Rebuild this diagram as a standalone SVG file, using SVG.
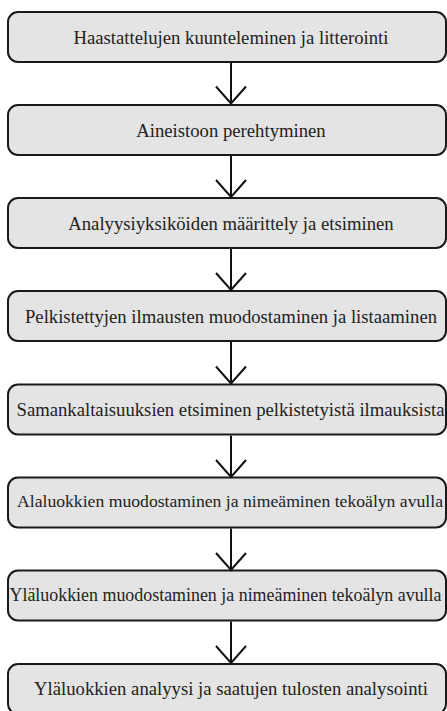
<svg xmlns="http://www.w3.org/2000/svg" width="447" height="711" viewBox="0 0 447 711">
<style>
.box{fill:#e4e4e4;stroke:#1a1a1a;stroke-width:2}
.lbl{font-family:'Liberation Serif','Times New Roman',serif;font-size:18.7px;fill:#222;text-anchor:middle}
.sm{font-size:18px}
.xs{font-size:17.6px}
.con{stroke:#111;stroke-width:2;fill:none}
</style>
<rect width="447" height="711" fill="#fff"/>
<g id="n1"><rect class="box" x="8" y="12" width="438" height="50" rx="10"/><text class="lbl" x="231" y="44">Haastattelujen kuunteleminen ja litterointi</text></g>
<g id="n2"><rect class="box" x="8" y="105" width="438" height="50" rx="10"/><text class="lbl" x="231" y="137">Aineistoon perehtyminen</text></g>
<g id="n3"><rect class="box" x="8" y="198" width="438" height="50" rx="10"/><text class="lbl" x="231" y="230">Analyysiyksiköiden määrittely ja etsiminen</text></g>
<g id="n4"><rect class="box" x="8" y="291" width="438" height="50" rx="10"/><text class="lbl" x="231" y="323">Pelkistettyjen ilmausten muodostaminen ja listaaminen</text></g>
<g id="n5"><rect class="box" x="8" y="384.5" width="438" height="50" rx="10"/><text class="lbl" x="230.5" y="415.5" textLength="428" lengthAdjust="spacingAndGlyphs">Samankaltaisuuksien etsiminen pelkistetyistä ilmauksista</text></g>
<g id="n6"><rect class="box" x="8" y="477.5" width="438" height="50" rx="10"/><text class="lbl xs" x="230" y="507" textLength="426" lengthAdjust="spacingAndGlyphs">Alaluokkien muodostaminen ja nimeäminen tekoälyn avulla</text></g>
<g id="n7"><rect class="box" x="8" y="570.5" width="438" height="50" rx="10"/><text class="lbl sm" x="225.5" y="600.5" textLength="432" lengthAdjust="spacingAndGlyphs">Yläluokkien muodostaminen ja nimeäminen tekoälyn avulla</text></g>
<g id="n8"><rect class="box" x="8" y="664" width="438" height="50" rx="10"/><text class="lbl" x="231" y="695">Yläluokkien analyysi ja saatujen tulosten analysointi</text></g>
<g id="connectors">
<path class="con" d="M231 63V104.5M216 86.5L231 103.5L246 86.5"/>
<path class="con" d="M231 156V197.5M216 180L231 197L246 180"/>
<path class="con" d="M231 249V290.5M216 273L231 290L246 273"/>
<path class="con" d="M231 342V384M216 366.5L231 383.5L246 366.5"/>
<path class="con" d="M231 435.5V477M216 460L231 477L246 460"/>
<path class="con" d="M231 528.5V570M216 553L231 570L246 553"/>
<path class="con" d="M231 621.5V663.5M216 646L231 663L246 646"/>
</g>
</svg>
